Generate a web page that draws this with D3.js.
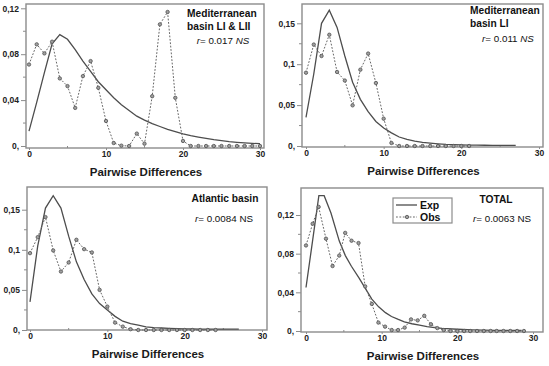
<!DOCTYPE html>
<html>
<head>
<meta charset="utf-8">
<script src="https://cdn.jsdelivr.net/npm/d3@7"></script>
<style>
  body { margin: 0; background: #fff; }
  svg { display: block; font-family: "Liberation Sans", Arial, sans-serif; }
</style>
</head>
<body>
<script>
// ---- data ----
const xTickValues = [0, 10, 20, 30];

// Mediterranean basin LI & LII
const medAllObsX = [0,1,2,3,4,5,6,7,8,9,10,11,12,13,14,15,16,17,18,19,20,21,22,23,24,25,26,27,28,29,30];
const medAllObsY = [0.071,0.0886,0.0807,0.0909,0.0589,0.0522,0.0332,0.0609,0.074,0.0507,0.0218,0.0026,0.0003,0,0.0108,0.002,0.0434,0.106,0.1168,0.042,0.0044,0,0,0,0,0,0,0,0,0,0];
const medAllExpX = [0,1,2,3,4,5,6,7,8,9,10,11,12,13,14,15,16,17,18,19,20,21,22,23,24,25,26,27,28,29,30];
const medAllExpY = [0.013,0.038,0.064,0.089,0.097,0.093,0.084,0.074,0.065,0.056,0.049,0.042,0.036,0.031,0.026,0.0225,0.0195,0.017,0.0145,0.0125,0.0105,0.009,0.0078,0.0066,0.0055,0.0046,0.0038,0.0032,0.0027,0.0023,0.002];

// Mediterranean basin LI
const medLIObsX = [0,1,2,3,4,5,6,7,8,9,10,11,12,13,14,15,16,17,18,19,20,21];
const medLIObsY = [0.0896,0.124,0.11,0.136,0.0905,0.08,0.0497,0.0933,0.113,0.077,0.0334,0.0037,0,0,0,0,0,0,0,0,0,0];
const medLIExpX = [0,1,2,3,4,5,6,7,8,9,10,11,12,13,14,15,16,17,18,19,20,21,22,23,24,25,26,27];
const medLIExpY = [0.035,0.088,0.15,0.166,0.145,0.11,0.078,0.057,0.042,0.03,0.022,0.016,0.011,0.008,0.006,0.0045,0.0035,0.0027,0.002,0.0016,0.0013,0.0011,0.001,0.0009,0.0008,0.0008,0.0007,0.0007];

// Atlantic basin
const atlObsX = [0,1,2,3,4,5,6,7,8,9,10,11,12,13,14,15,16,17,18,19,20,21,22,23,24];
const atlObsY = [0.0958,0.1158,0.1408,0.0992,0.0729,0.0842,0.1125,0.1008,0.0967,0.05,0.0292,0.0092,0.0042,0.001,0,0,0,0,0,0,0,0,0,0,0];
const atlExpX = [0,1,2,3,4,5,6,7,8,9,10,11,12,13,14,15,16,17,18,19,20,21,22,23,24,25,26,27];
const atlExpY = [0.035,0.105,0.152,0.1675,0.152,0.117,0.085,0.063,0.045,0.033,0.025,0.017,0.011,0.008,0.006,0.004,0.003,0.0025,0.002,0.0017,0.0015,0.0013,0.0012,0.0011,0.001,0.001,0.001,0.001];

// TOTAL
const totObsX = [0,0.88,1.67,2.64,3.51,4.39,5.18,6.02,6.94,7.82,8.7,9.57,10.45,11.33,12.17,13.04,13.88,14.76,15.63,16.51,17.35,18.2,19.1,20,20.9,21.7,22.6,23.5,24.4,25.2,26.1,27,27.9,28.8];
const totObsY = [0.0885,0.111,0.1284,0.0955,0.0672,0.078,0.1015,0.0934,0.091,0.0462,0.028,0.0087,0.0045,0.001,0.001,0.0035,0.012,0.011,0.0157,0.007,0.003,0.001,0,0,0,0,0,0,0,0,0,0,0,0];
const totExpX = [0,0.9,1.7,2.4,3.3,4.4,5.2,6,7,8,8.7,9.6,10.5,11.3,12.2,13,14,15,16,17,18,20,22,25,28.5];
const totExpY = [0.045,0.095,0.14,0.14,0.122,0.093,0.078,0.067,0.055,0.042,0.033,0.025,0.019,0.015,0.012,0.0095,0.0075,0.006,0.0045,0.0035,0.0027,0.0018,0.0012,0.0007,0.0005];

const yTicks12 = [0, 0.04, 0.08, 0.12];
const yTicks15 = [0, 0.05, 0.1, 0.15];

const svg = d3.select("body").append("svg")
  .attr("width", 549)
  .attr("height", 366);

/**
 * One panel of the mismatch distribution figure.
 */
class MismatchPanel {
  constructor(opts) {
    this.o = opts;
    this.g = svg.append("g");
    this.x = d3.scaleLinear().domain([0, 30]).range(opts.xRange);
    this.y = d3.scaleLinear().domain([0, opts.yTicks[opts.yTicks.length - 1]]).range(opts.yRange);
    this.drawFrame();
    this.drawAxes();
    this.drawLines();
    this.drawLabels();
  }

  drawFrame() {
    const f = this.o.frame;
    this.g.append("rect")
      .attr("x", f[0]).attr("y", f[1])
      .attr("width", f[2] - f[0]).attr("height", f[3] - f[1])
      .attr("fill", "none")
      .attr("stroke", "#8c8c8c")
      .attr("stroke-width", 1.4);
  }

  drawAxes() {
    const f = this.o.frame;
    const t = this.o.yTicks;
    const step = t[1] - t[0];
    const minor = t.slice(0, -1).map(v => v + step / 2);

    // y axis
    const yAxis = d3.axisLeft(this.y)
      .tickValues(t)
      .tickSize(5)
      .tickPadding(2)
      .tickFormat(v => v === 0 ? "0," : d3.format(this.o.yFmt)(v).replace(".", ","));
    const ga = this.g.append("g")
      .attr("transform", "translate(" + f[0] + ",0)")
      .call(yAxis);
    ga.select(".domain").remove();
    ga.selectAll("line").attr("stroke", "#8c8c8c");
    ga.selectAll("text")
      .attr("font-size", 8.5).attr("font-weight", "bold").attr("fill", "#222");
    this.g.append("g").selectAll("line").data(minor).join("line")
      .attr("x1", f[0] - 3).attr("x2", f[0])
      .attr("y1", d => this.y(d)).attr("y2", d => this.y(d))
      .attr("stroke", "#8c8c8c");

    // x axis
    const xAxis = d3.axisBottom(this.x)
      .tickValues(xTickValues)
      .tickSize(2)
      .tickPadding(1)
      .tickFormat(d3.format("d"));
    const gx = this.g.append("g")
      .attr("transform", "translate(0," + f[3] + ")")
      .call(xAxis);
    gx.select(".domain").remove();
    gx.selectAll("line").attr("stroke", "#8c8c8c");
    gx.selectAll("text")
      .attr("font-size", 8.5).attr("font-weight", "bold").attr("fill", "#222");
    this.g.append("g").selectAll("line").data([5, 15, 25]).join("line")
      .attr("x1", d => this.x(d)).attr("x2", d => this.x(d))
      .attr("y1", f[3]).attr("y2", f[3] - 2)
      .attr("stroke", "#8c8c8c");

    this.g.append("text")
      .attr("x", (f[0] + f[2]) / 2 + 1)
      .attr("y", f[3] + 28)
      .attr("text-anchor", "middle")
      .attr("font-size", 11.5)
      .attr("font-weight", "bold")
      .attr("fill", "#1a1a1a")
      .text("Pairwise Differences");
  }

  drawLines() {
    const o = this.o;
    const exp = o.expX.map((v, i) => [v, o.expY[i]]);
    const obs = o.obsX.map((v, i) => [v, o.obsY[i]]);
    const line = d3.line().x(d => this.x(d[0])).y(d => this.y(d[1]));

    this.g.append("path")
      .attr("d", line(exp))
      .attr("fill", "none")
      .attr("stroke", "#4d4d4d")
      .attr("stroke-width", 1.3);

    this.g.append("path")
      .attr("d", line(obs))
      .attr("fill", "none")
      .attr("stroke", "#666")
      .attr("stroke-width", 1)
      .attr("stroke-dasharray", "1.8,1.6");

    this.g.append("g").selectAll("circle").data(obs).join("circle")
      .attr("cx", d => this.x(d[0]))
      .attr("cy", d => this.y(d[1]))
      .attr("r", 1.7)
      .attr("fill", "#a0a0a0")
      .attr("stroke", "#505050")
      .attr("stroke-width", 0.8);
  }

  drawLabels() {
    const o = this.o;
    o.title.forEach((t, i) => {
      this.g.append("text")
        .attr("x", o.titlePos[0])
        .attr("y", o.titlePos[1] + i * 13)
        .attr("text-anchor", o.titleAnchor)
        .attr("font-size", 10.2)
        .attr("font-weight", "bold")
        .attr("fill", "#111")
        .text(t);
    });
    const r = this.g.append("text")
      .attr("x", o.rPos[0])
      .attr("y", o.rPos[1])
      .attr("text-anchor", "middle")
      .attr("font-size", 9.8)
      .attr("fill", "#111");
    r.append("tspan").attr("font-style", "italic").text("r");
    r.append("tspan").text("= " + o.rVal + " ");
    r.append("tspan").attr("font-style", o.nsItalic ? "italic" : "normal").text("NS");
  }
}

new MismatchPanel({
  frame: [26, 4, 264, 148], xRange: [29, 260], yRange: [146, 8.3],
  yTicks: yTicks12, yFmt: ".2f",
  obsX: medAllObsX, obsY: medAllObsY, expX: medAllExpX, expY: medAllExpY,
  title: ["Mediterranean", "basin LI & LII"], titlePos: [187, 17], titleAnchor: "start",
  rVal: "0.017", rPos: [223, 44], nsItalic: true
});

new MismatchPanel({
  frame: [302, 4, 543, 147], xRange: [306, 539], yRange: [146, 23.3],
  yTicks: yTicks15, yFmt: ".2~f",
  obsX: medLIObsX, obsY: medLIObsY, expX: medLIExpX, expY: medLIExpY,
  title: ["Mediterranean", "basin LI"], titlePos: [470, 14], titleAnchor: "start",
  rVal: "0.011", rPos: [508, 42], nsItalic: true
});

new MismatchPanel({
  frame: [27, 187, 267, 330], xRange: [30, 262], yRange: [330, 209.7],
  yTicks: yTicks15, yFmt: ".2~f",
  obsX: atlObsX, obsY: atlObsY, expX: atlExpX, expY: atlExpY,
  title: ["Atlantic basin"], titlePos: [225, 202], titleAnchor: "middle",
  rVal: "0.0084", rPos: [224, 222], nsItalic: false
});

new MismatchPanel({
  frame: [301, 188, 543, 332], xRange: [306, 533], yRange: [331, 215],
  yTicks: yTicks12, yFmt: ".2f",
  obsX: totObsX, obsY: totObsY, expX: totExpX, expY: totExpY,
  title: ["TOTAL"], titlePos: [496, 203], titleAnchor: "middle",
  rVal: "0.0063", rPos: [502, 222], nsItalic: false
});

// legend for the TOTAL panel
const leg = svg.append("g");
leg.append("rect")
  .attr("x", 393).attr("y", 198).attr("width", 59).attr("height", 25)
  .attr("fill", "#fff").attr("stroke", "#8c8c8c").attr("stroke-width", 1.2);
leg.append("line")
  .attr("x1", 396).attr("x2", 417).attr("y1", 205).attr("y2", 205)
  .attr("stroke", "#4d4d4d").attr("stroke-width", 1.3);
leg.append("line")
  .attr("x1", 396).attr("x2", 417).attr("y1", 217).attr("y2", 217)
  .attr("stroke", "#666").attr("stroke-dasharray", "1.8,1.6");
leg.append("circle")
  .attr("cx", 407).attr("cy", 217).attr("r", 1.7)
  .attr("fill", "#a0a0a0").attr("stroke", "#505050").attr("stroke-width", 0.8);
leg.selectAll("text.lg").data(["Exp", "Obs"]).join("text")
  .attr("class", "lg")
  .attr("x", 420)
  .attr("y", (d, i) => 209 + i * 12)
  .attr("font-size", 10.5)
  .attr("font-weight", "bold")
  .attr("fill", "#111")
  .text(d => d);
</script>
</body>
</html>
